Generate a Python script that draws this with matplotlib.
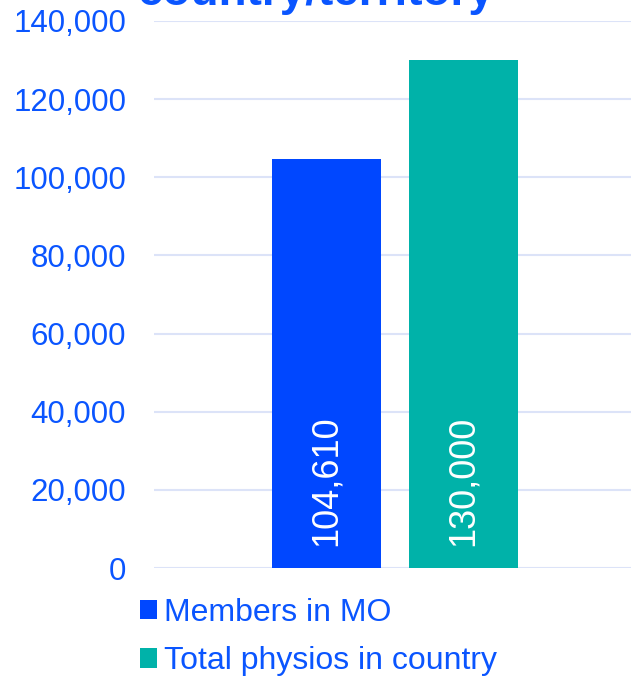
import matplotlib.pyplot as plt
from matplotlib.patches import Patch

plt.rcParams['font.family'] = ['Liberation Sans', 'DejaVu Sans']

categories = [""]
series_names = ["Members in MO", "Total physios in country"]
series_values = [[104610], [130000]]
colors = ["#0047FF", "#00B2A9"]
yticks = [0, 20000, 40000, 60000, 80000, 100000, 120000, 140000]
title_tail = "country/territory"

TXT = "#0A55FF"
GRID = "#DCE3F8"

fig = plt.figure(figsize=(6.31, 6.76), dpi=100)
ax = fig.add_axes([154 / 631, 1 - 568 / 676, 477 / 631, 547 / 676])

width = 0.2285
offsets = [-0.1436, 0.1436]
for vals, name, col, off in zip(series_values, series_names, colors, offsets):
    xs = [i + off for i in range(len(categories))]
    bars = ax.bar(xs, vals, width=width, color=col, label=name, zorder=3)
    for b, v in zip(bars, vals):
        ax.annotate(f"{v:,}", xy=(b.get_x() + b.get_width() / 2, 0),
                    xytext=(0, 15.5), textcoords="offset points",
                    rotation=90, ha="center", va="bottom",
                    color="white", fontsize=26, zorder=4)

ax.set_xlim(-0.505, 0.495)
ax.set_ylim(0, 140000)
ax.set_yticks(yticks)
ax.set_yticklabels([f"{t:,}" for t in yticks])
ax.tick_params(axis="y", length=0, pad=20, labelsize=22.5, labelcolor=TXT)
ax.set_xticks([])
ax.grid(axis="y", color=GRID, linewidth=1.5, zorder=0)
for s in ax.spines.values():
    s.set_visible(False)

# title is clipped at the top edge of the figure
fig.text(316 / 631, 1 - 5 / 676, title_tail, ha="center", va="baseline",
         fontsize=33, fontweight="bold", color=TXT)

handles = [Patch(facecolor=c, edgecolor="none") for c in colors]
fig.legend(handles, series_names, loc="upper left",
           bbox_to_anchor=(127 / 631, 1 - 585 / 676), frameon=False,
           fontsize=23, labelcolor=TXT, handlelength=0.55, handleheight=0.55,
           handletextpad=0.2, labelspacing=0.58, borderaxespad=0)

fig.savefig("out.png", dpi=100)
